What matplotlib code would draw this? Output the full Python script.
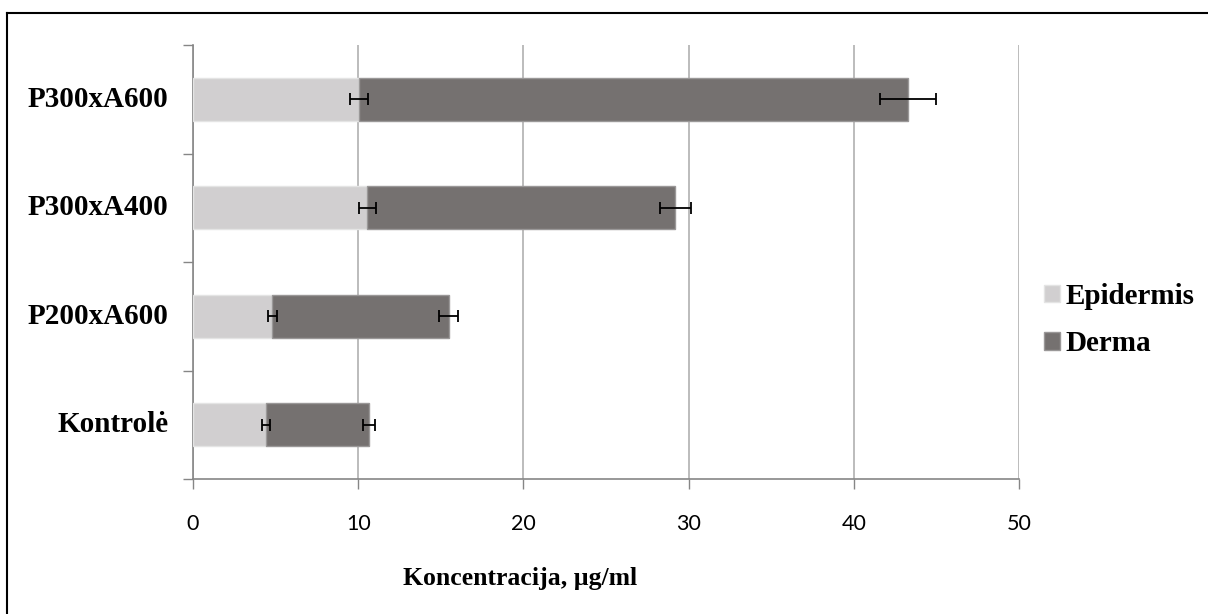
import matplotlib
matplotlib.use("Agg")
import numpy as np
import matplotlib.pyplot as plt
from matplotlib.lines import Line2D

categories = ["Kontrolė", "P200xA600", "P300xA400", "P300xA600"]
epidermis = [4.42, 4.79, 10.55, 10.06]
derma = [6.25, 10.68, 18.64, 33.24]
epidermis_err = [0.27, 0.27, 0.53, 0.53]
derma_err = [0.35, 0.55, 0.93, 1.70]
xticks = [0, 10, 20, 30, 40, 50]

serif = ["Liberation Serif", "DejaVu Serif"]
axis_gray = "#868686"

fig = plt.figure(figsize=(12.08, 6.14), dpi=100)
ax = fig.add_axes([193 / 1208, 1 - 479 / 614, (1019 - 193) / 1208, (479 - 45) / 614])

y = np.arange(len(categories))
totals = np.array(epidermis) + np.array(derma)

ax.barh(y, epidermis, height=0.4, color="#d1cfd0", edgecolor="#e4e4e4",
        linewidth=1, label="Epidermis", zorder=3)
ax.barh(y, derma, left=epidermis, height=0.4, color="#757170", edgecolor="#9a9898",
        linewidth=1, label="Derma", zorder=3)

ax.errorbar(epidermis, y, xerr=epidermis_err, fmt="none", ecolor="black",
            elinewidth=1.3, capsize=4.3, capthick=1.3, zorder=4)
ax.errorbar(totals, y, xerr=derma_err, fmt="none", ecolor="black",
            elinewidth=1.3, capsize=4.3, capthick=1.3, zorder=4)

ax.set_xlim(0, 50)
ax.set_ylim(-0.5, len(categories) - 0.5)
ax.set_xticks(xticks)
ax.set_xticklabels([str(t) for t in xticks], fontsize=15.5, family=["Lato", "DejaVu Sans"])
ax.tick_params(axis="x", length=7, width=1, color=axis_gray, pad=18)

# category labels between tick marks, tick marks at boundaries
ax.set_yticks(np.arange(-0.5, len(categories), 1.0))
ax.set_yticklabels([])
ax.tick_params(axis="y", length=7, width=1, color=axis_gray)
for yi, name in zip(y, categories):
    ax.text(-0.03, yi, name, transform=ax.get_yaxis_transform(), ha="right",
            va="center", fontsize=21, fontweight="bold", family=serif)

ax.grid(axis="x", color="#b0b0b0", linewidth=1.2, zorder=0)
ax.set_axisbelow(True)
for side in ["top", "right"]:
    ax.spines[side].set_visible(False)
for side in ["left", "bottom"]:
    ax.spines[side].set_color(axis_gray)
    ax.spines[side].set_linewidth(1.2)

# axis title sits left of centre in the original
fig.text(520 / 1208, 1 - 578 / 614, "Koncentracija, µg/ml", ha="center", va="center",
         fontsize=18.5, fontweight="bold", family=serif)

handles, labels = ax.get_legend_handles_labels()
leg = fig.legend(handles, labels, loc="center left",
                 bbox_to_anchor=(1032 / 1208, 1 - 320 / 614), frameon=False,
                 prop={"family": serif, "weight": "bold", "size": 21},
                 handlelength=0.55, handleheight=0.55, handletextpad=0.2,
                 labelspacing=0.7, borderaxespad=0)

# outer frame (only left and top edges are visible in the crop)
fig.add_artist(Line2D([7 / 1208, 7 / 1208], [0, 1 - 13 / 614], transform=fig.transFigure,
                      color="black", linewidth=1.5))
fig.add_artist(Line2D([7 / 1208, 1], [1 - 13 / 614, 1 - 13 / 614], transform=fig.transFigure,
                      color="black", linewidth=1.5))

fig.savefig("out.png", dpi=100)
